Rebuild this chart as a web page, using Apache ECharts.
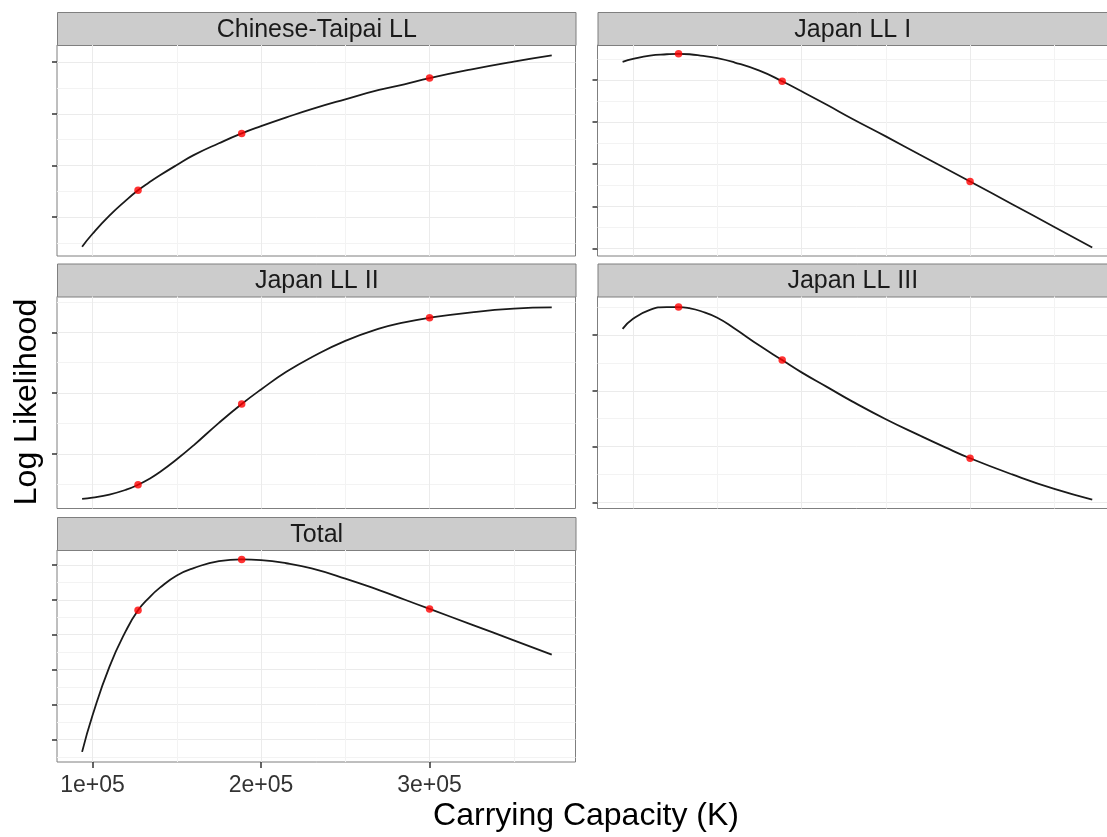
<!DOCTYPE html>
<html><head><meta charset="utf-8">
<script src="https://cdn.jsdelivr.net/npm/echarts@6/dist/echarts.min.js"></script>
<style>html,body{margin:0;padding:0;background:#fff;overflow:hidden}#main{width:1120px;height:837px}</style>
</head><body><div id="main"></div>
<script>
// ---- data (y units are arbitrary, ticks unlabeled) ----
const panelNames = ['Chinese-Taipai LL', 'Japan LL I', 'Japan LL II', 'Japan LL III', 'Total'];
const kValues = [93800, 100000, 110000, 120000, 127000, 133500, 140000, 150000, 160000, 175000, 188500, 200000, 215000, 230000, 250000, 270000, 285000, 300000, 325000, 350000, 372500];
const chineseTaipai = [-0.57, -0.32, 0.03, 0.33, 0.52, 0.67, 0.81, 1.01, 1.20, 1.43, 1.62, 1.76, 1.93, 2.09, 2.28, 2.46, 2.57, 2.69, 2.86, 3.01, 3.13];
const japanLL1 = [4.43, 4.50, 4.58, 4.61, 4.62, 4.61, 4.58, 4.52, 4.42, 4.22, 3.97, 3.73, 3.41, 3.08, 2.66, 2.23, 1.91, 1.59, 1.05, 0.51, 0.02];
const japanLL2 = [-0.74, -0.72, -0.67, -0.59, -0.51, -0.415, -0.30, -0.09, 0.14, 0.51, 0.82, 1.06, 1.35, 1.59, 1.86, 2.06, 2.165, 2.24, 2.33, 2.39, 2.41];
const japanLL3 = [3.11, 3.29, 3.45, 3.50, 3.50, 3.48, 3.43, 3.31, 3.12, 2.81, 2.55, 2.33, 2.07, 1.81, 1.49, 1.20, 0.99, 0.79, 0.50, 0.24, 0.05];
const total = [-0.36, 0.69, 2.08, 3.13, 3.70, 4.06, 4.35, 4.70, 4.91, 5.11, 5.16, 5.14, 5.05, 4.90, 4.61, 4.28, 4.01, 3.74, 3.29, 2.84, 2.43];
const pointK = [127000, 188500, 300000];
const pointsCT = [0.52, 1.62, 2.69];
const pointsJ1 = [4.62, 3.97, 1.59];
const pointsJ2 = [-0.51, 0.82, 2.24];
const pointsJ3 = [3.50, 2.55, 0.79];
const pointsTotal = [3.70, 5.16, 3.74];
const xTickValues = [100000, 200000, 300000];
const xTickLabels = ['1e+05', '2e+05', '3e+05'];
const xMinorValues = [150000, 250000, 350000];
const yTicksCT = [0, 1, 2, 3],       yMinorCT = [-0.5, 0.5, 1.5, 2.5];
const yTicksJ1 = [0, 1, 2, 3, 4],    yMinorJ1 = [0.5, 1.5, 2.5, 3.5, 4.5];
const yTicksJ2 = [0, 1, 2],          yMinorJ2 = [-0.5, 0.5, 1.5, 2.5];
const yTicksJ3 = [0, 1, 2, 3],       yMinorJ3 = [0.5, 1.5, 2.5, 3.5];
const yTicksTotal = [0, 1, 2, 3, 4, 5], yMinorTotal = [-0.5, 0.5, 1.5, 2.5, 3.5, 4.5];
const xTitle = 'Carrying Capacity (K)';
const yTitle = 'Log Likelihood';

// ---- layout ----
const X_MIN = 78900, X_MAX = 386600;
const panels = [
  {curve: chineseTaipai, pts: pointsCT, ticks: yTicksCT, minor: yMinorCT, yMin: -0.75, yMax: 3.33, box: [57, 45, 518.5, 211], xAxis: false},
  {curve: japanLL1, pts: pointsJ1, ticks: yTicksJ1, minor: yMinorJ1, yMin: -0.18, yMax: 4.83, box: [597.5, 45, 518.5, 211], xAxis: false},
  {curve: japanLL2, pts: pointsJ2, ticks: yTicksJ2, minor: yMinorJ2, yMin: -0.90, yMax: 2.59, box: [57, 296.5, 518.5, 212], xAxis: false},
  {curve: japanLL3, pts: pointsJ3, ticks: yTicksJ3, minor: yMinorJ3, yMin: -0.11, yMax: 3.69, box: [597.5, 296.5, 518.5, 212], xAxis: false},
  {curve: total, pts: pointsTotal, ticks: yTicksTotal, minor: yMinorTotal, yMin: -0.65, yMax: 5.43, box: [57, 550, 518.5, 212], xAxis: true}
];
const STRIP_H = 33;
const FONT = '"Liberation Sans", Arial, Helvetica, sans-serif';

const grid = [], xAxis = [], yAxis = [], series = [], graphic = [];
panels.forEach((p, i) => {
  const [l, t, w, h] = p.box;
  grid.push({left: l, top: t, width: w, height: h, show: true, backgroundColor: '#fff', borderColor: '#7F7F7F', borderWidth: 1, containLabel: false});
  xAxis.push({
    gridIndex: i, type: 'value', min: X_MIN, max: X_MAX, position: 'bottom',
    axisLine: {show: false, onZero: false},
    axisTick: {show: p.xAxis, customValues: xTickValues, length: 6, lineStyle: {color: '#333', width: 1.5}},
    axisLabel: {show: p.xAxis, customValues: xTickValues, margin: 12, fontSize: 23, color: '#333', fontFamily: FONT,
      formatter: v => xTickLabels[xTickValues.indexOf(v)] || ''},
    splitLine: {show: true, lineStyle: {color: '#EBEBEB', width: 1}}
  });
  xAxis.push({
    gridIndex: i, type: 'value', min: X_MIN, max: X_MAX, position: 'top',
    axisLine: {show: false, onZero: false}, axisLabel: {show: false},
    axisTick: {show: false, customValues: xMinorValues},
    splitLine: {show: true, lineStyle: {color: '#F3F3F3', width: 1}}
  });
  yAxis.push({
    gridIndex: i, type: 'value', min: p.yMin, max: p.yMax, position: 'left',
    axisLine: {show: false, onZero: false},
    axisTick: {show: true, customValues: p.ticks, length: 5, lineStyle: {color: '#333', width: 1.5}},
    axisLabel: {show: false},
    splitLine: {show: true, lineStyle: {color: '#EBEBEB', width: 1}}
  });
  yAxis.push({
    gridIndex: i, type: 'value', min: p.yMin, max: p.yMax, position: 'right',
    axisLine: {show: false, onZero: false}, axisLabel: {show: false},
    axisTick: {show: false, customValues: p.minor},
    splitLine: {show: true, lineStyle: {color: '#F3F3F3', width: 1}}
  });
  series.push({
    type: 'line', xAxisIndex: 2 * i, yAxisIndex: 2 * i,
    data: kValues.map((k, j) => [k, p.curve[j]]),
    smooth: 0.5, showSymbol: false, silent: true,
    lineStyle: {color: '#1A1A1A', width: 1.8}, z: 3
  });
  series.push({
    type: 'scatter', xAxisIndex: 2 * i, yAxisIndex: 2 * i,
    data: pointK.map((k, j) => [k, p.pts[j]]),
    symbol: 'circle', symbolSize: 7.5, itemStyle: {color: '#FF0000'}, z: 4, silent: true
  });
  graphic.push({
    type: 'group', left: l, top: t - STRIP_H, children: [
      {type: 'rect', shape: {x: 0, y: 0, width: w, height: STRIP_H}, style: {fill: '#CCCCCC', stroke: '#7F7F7F', lineWidth: 1}},
      {type: 'text', x: 0, y: 0, style: {text: panelNames[i], x: w / 2 - (l > 300 ? 4.5 : 0), y: STRIP_H / 2 + 1, align: 'center', verticalAlign: 'middle', fontSize: 25, fill: '#1A1A1A', fontFamily: FONT}}
    ]
  });
});
graphic.push({type: 'text', style: {text: xTitle, x: 586, y: 816, align: 'center', verticalAlign: 'middle', fontSize: 32, fill: '#000', fontFamily: FONT}});
graphic.push({type: 'text', rotation: Math.PI / 2, x: 27, y: 402, style: {text: yTitle, x: 0, y: 0, align: 'center', verticalAlign: 'middle', fontSize: 32, fill: '#000', fontFamily: FONT}});

const chart = echarts.init(document.getElementById('main'), null, {renderer: 'canvas'});
chart.setOption({animation: false, backgroundColor: '#fff', grid, xAxis, yAxis, series, graphic});
</script></body></html>
